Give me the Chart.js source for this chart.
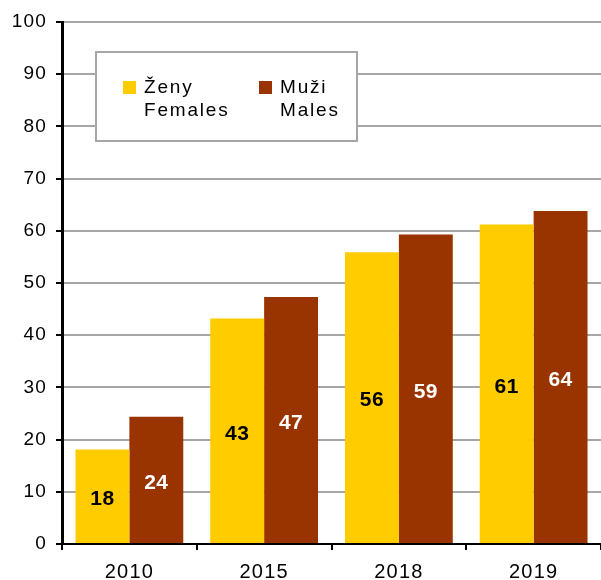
<!DOCTYPE html>
<html>
<head>
<meta charset="utf-8">
<script src="https://cdn.jsdelivr.net/npm/chart.js@4"></script>
<style>
  body { margin: 0; background: #fff; }
  canvas { display: block; }
</style>
</head>
<body>
<canvas id="chart" width="601" height="580"></canvas>
<script>
// values
const years = ["2010", "2015", "2018", "2019"];
const females = [18.1, 43.2, 55.9, 61.2];
const males = [24.4, 47.3, 59.3, 63.8];
const femaleLabel = ["Ženy", "Females"];
const maleLabel = ["Muži", "Males"];

const FONT = "'Liberation Sans', Arial, sans-serif";

// the original text is a bit spread out
const spacing = {
  id: "spacing",
  beforeDraw(chart) {
    chart.ctx.letterSpacing = "1.2px";
  }
};

// numbers in the middle of each bar
const barValues = {
  id: "barValues",
  afterDatasetsDraw(chart) {
    const ctx = chart.ctx;
    ctx.save();
    ctx.letterSpacing = "0.5px";
    ctx.font = "bold 21px " + FONT;
    ctx.textAlign = "center";
    ctx.textBaseline = "middle";
    chart.data.datasets.forEach((ds, i) => {
      ctx.fillStyle = i === 0 ? "#000" : "#fff";
      chart.getDatasetMeta(i).data.forEach((bar, j) => {
        ctx.fillText(Math.round(ds.data[j]), bar.x, (bar.y + bar.base) / 2 + 3);
      });
    });
    ctx.restore();
  }
};

// boxed legend inside the plot, two lines per entry
const boxLegend = {
  id: "boxLegend",
  afterDraw(chart) {
    const ctx = chart.ctx;
    const a = chart.chartArea;
    const x0 = a.left + 34, y0 = a.top + 30;
    ctx.save();
    ctx.fillStyle = "#fff";
    ctx.fillRect(x0, y0, 261, 89);
    ctx.strokeStyle = "#a6a6a6";
    ctx.lineWidth = 2;
    ctx.strokeRect(x0, y0, 261, 89);
    ctx.letterSpacing = "1.8px";
    ctx.font = "19px " + FONT;
    ctx.textBaseline = "middle";
    ctx.textAlign = "left";
    chart.data.datasets.forEach((ds, i) => {
      const sx = x0 + 27 + i * 136;
      ctx.fillStyle = ds.backgroundColor;
      ctx.fillRect(sx, y0 + 29, 13, 13);
      ctx.fillStyle = "#000";
      ds.legendLines.forEach((t, k) => {
        ctx.fillText(t, sx + 21, y0 + 36 + k * 23);
      });
    });
    ctx.restore();
  }
};

new Chart(document.getElementById("chart"), {
  type: "bar",
  data: {
    labels: years,
    datasets: [
      { label: femaleLabel.join(" "), legendLines: femaleLabel, data: females, backgroundColor: "#ffcc00" },
      { label: maleLabel.join(" "), legendLines: maleLabel, data: males, backgroundColor: "#993300" }
    ]
  },
  options: {
    responsive: false,
    animation: false,
    layout: { padding: { top: 22, right: 0, left: 0, bottom: 0 } },
    datasets: { bar: { categoryPercentage: 0.8, barPercentage: 1.0 } },
    plugins: {
      legend: { display: false },
      title: { display: false },
      tooltip: { enabled: false }
    },
    scales: {
      x: {
        afterFit(scale) { scale.height = 36; },
        grid: { offset: true, drawOnChartArea: false, color: "#000", lineWidth: 2, tickLength: 6 },
        border: { color: "#000", width: 2 },
        ticks: { color: "#000", font: { family: FONT, size: 20 }, padding: 10 }
      },
      y: {
        min: 0,
        max: 100,
        afterFit(scale) { scale.width = 62; },
        grid: { color: "#a6a6a6", lineWidth: 2, tickColor: "#000", tickLength: 6 },
        border: { color: "#000", width: 3 },
        ticks: { stepSize: 10, color: "#000", font: { family: FONT, size: 19 }, padding: 9 }
      }
    }
  },
  plugins: [spacing, barValues, boxLegend]
});
</script>
</body>
</html>
